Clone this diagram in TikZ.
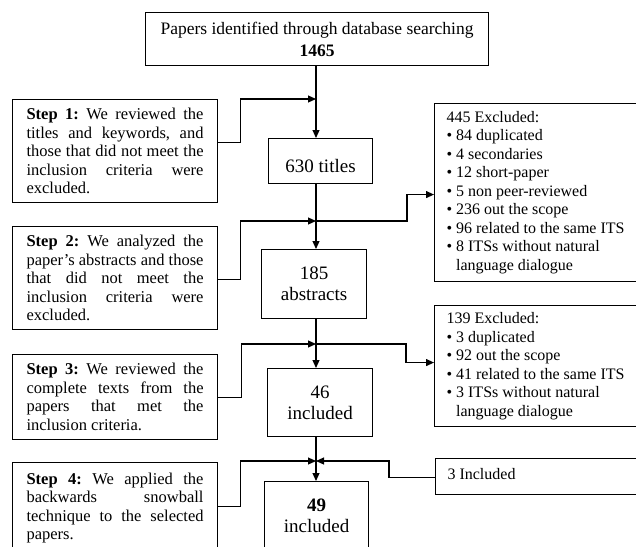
\documentclass[tikz,border=0pt]{standalone}
\usepackage{fontspec}
\setmainfont{Liberation Serif}
\usetikzlibrary{arrows.meta}
\newcommand\jline[1]{\makebox[177pt][s]{#1}}
\newcommand\bul{\textbullet\ }
\newcommand\bulind{\phantom{\textbullet\ }}
\newcommand\natsp{\spaceskip=0pt\xspaceskip=0pt\frenchspacing}
\begin{document}
\begin{tikzpicture}[x=1pt,y=-1pt,
  box/.style={draw, line width=1.1pt, inner sep=0pt, anchor=north west,
    execute at begin node=\natsp},
  stepbox/.style={box, minimum width=205pt, text width=177pt, align=left,
    font=\fontsize{16.5}{18.5}\selectfont},
  midbox/.style={box, align=center, font=\fontsize{19}{21}\selectfont},
  rbox/.style={box, minimum width=216pt, text width=192pt, align=left,
    font=\fontsize{16}{18.5}\selectfont},
  conn/.style={line width=1.1pt, -{Triangle[length=8pt,width=7pt]}}]
\useasboundingbox (0,0) rectangle (636,546);
\clip (0,0) rectangle (636,546);
\fill[white] (0,0) rectangle (636,546);

% main column nodes
\node[box, minimum width=343pt, minimum height=53pt, align=center,
  font=\fontsize{17.5}{22}\selectfont] (top) at (145,12)
  {Papers identified through database searching\\ \textbf{1465}};
\node[midbox, minimum width=104pt, minimum height=45pt] (t630) at (268,138)
  {\raisebox{-5pt}[\height][\depth]{630 titles}};
\node[midbox, minimum width=105pt, minimum height=69pt] (a185) at (261,249)
  {185\\ abstracts};
\node[midbox, minimum width=105pt, minimum height=68pt] (i46) at (267,368)
  {46\\ included};
\node[midbox, minimum width=104pt, minimum height=69pt] (i49) at (264,481)
  {\textbf{49}\\ included};

% step boxes
\node[stepbox, minimum height=103pt] (step1) at (12,99)
  {\jline{\textbf{Step 1:} We reviewed the}\\
   \jline{titles and keywords, and}\\
   \jline{those that did not meet the}\\
   \jline{inclusion criteria were}\\
   excluded.};
\node[stepbox, minimum height=103pt] (step2) at (12,226)
  {\jline{\textbf{Step 2:} We analyzed the}\\
   \jline{paper’s abstracts and those}\\
   \jline{that did not meet the}\\
   \jline{inclusion criteria were}\\
   excluded.};
\node[stepbox, minimum height=85pt] (step3) at (12,354)
  {\jline{\textbf{Step 3:} We reviewed the}\\
   \jline{complete texts from the}\\
   \jline{papers that met the}\\
   inclusion criteria.};
\node[stepbox, minimum height=91pt] (step4) at (12,462)
  {\jline{\textbf{Step 4:} We applied the}\\
   \jline{backwards snowball}\\
   \jline{technique to the selected}\\
   papers.};

% right boxes
\node[rbox, minimum height=178pt] (ex445) at (434,103)
  {445 Excluded:\\
   \bul 84 duplicated\\
   \bul 4 secondaries\\
   \bul 12 short-paper\\
   \bul 5 non peer-reviewed\\
   \bul 236 out the scope\\
   \bul 96 related to the same ITS\\
   \bul 8 ITSs without natural\\
   \bulind language dialogue};
\node[rbox, minimum height=121pt] (ex139) at (434,305)
  {139 Excluded:\\
   \bul 3 duplicated\\
   \bul 92 out the scope\\
   \bul 41 related to the same ITS\\
   \bul 3 ITSs without natural\\
   \bulind language dialogue};
\node[rbox, minimum height=36pt] (three) at (435,458)
  {\raisebox{3pt}[\height][\depth]{3 Included}};

% junctions on the main line
\coordinate (j1) at (316,99);
\coordinate (j2) at (316,221);
\coordinate (j3) at (316,344);
\coordinate (j4) at (316,461);

% main vertical flow
\draw[conn] (top.south -| j1) -- (t630.north -| j1);
\draw[conn] (t630.south -| j2) -- (a185.north -| j2);
\draw[conn] (a185.south -| j3) -- (i46.north -| j3);
\draw[conn] (i46.south -| j4) -- (i49.north -| j4);

% step connectors
\draw[conn] ([yshift=8.5pt]step1.east) -- ++(22,0) |- (j1);
\draw[conn] ([yshift=-1.5pt]step2.east) -- ++(22,0) |- (j2);
\draw[conn] (step3.east) -- ++(23,0) |- (j3);
\draw[conn] ([yshift=1.5pt]step4.east) -- ++(22,0) |- (j4);

% exclusion connectors
\draw[conn] (j2) -- ++(91,0) |- ([yshift=-2pt]ex445.west);
\draw[conn] (j3) -- ++(90,0) |- ([yshift=3.5pt]ex139.west);
\draw[conn] ([yshift=-1pt]three.west) -- ++(-46,0) |- (j4);
\end{tikzpicture}
\end{document}
